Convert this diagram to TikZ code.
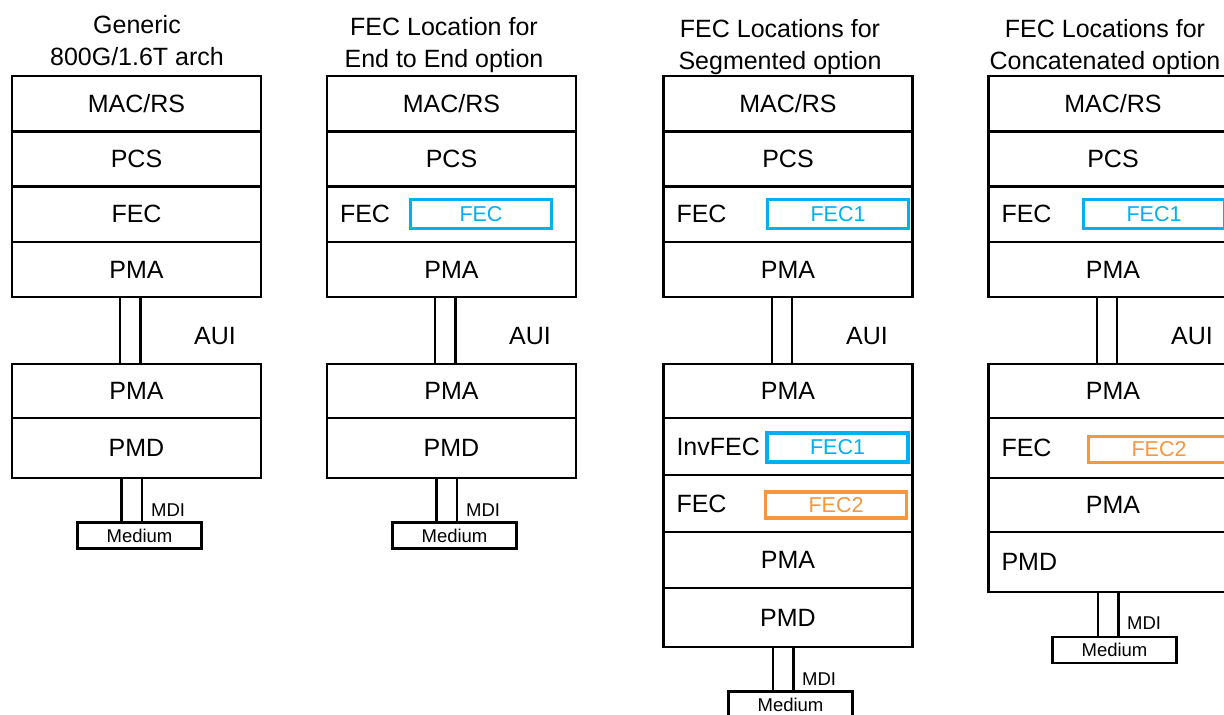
\documentclass[tikz,border=0pt]{standalone}
\usepackage{fontspec}
\setmainfont{Liberation Sans}
\definecolor{fecblue}{HTML}{00B0F0}
\definecolor{fecorange}{HTML}{F7963C}
\tikzset{
  layer/.style={draw, line width=2.2pt, inner sep=0pt, minimum width=249pt,
    font=\fontsize{25}{30}\selectfont},
  llayer/.style={layer, text width=223pt, align=left},
  fecbox/.style={draw=fecblue, line width=3.5pt, minimum width=141pt, minimum height=29pt,
    inner sep=0pt, text=fecblue, font=\fontsize{21.5}{24}\selectfont},
  fecbox2/.style={fecbox, draw=fecorange, text=fecorange, line width=3.2pt, minimum height=26pt},
  title/.style={align=center, inner sep=0pt, anchor=north, font=\fontsize{25}{32}\selectfont},
  conn/.style={line width=2.2pt},
  medium/.style={draw, line width=2.2pt, inner sep=0pt, minimum width=124pt, minimum height=26pt,
    font=\fontsize{18.5}{20}\selectfont},
  smalllabel/.style={inner sep=0pt, anchor=west, font=\fontsize{18.5}{20}\selectfont},
  biglabel/.style={inner sep=0pt, font=\fontsize{25}{30}\selectfont}
}
\begin{document}
\begin{tikzpicture}[x=1pt, y=-1pt]
\useasboundingbox (0,0) rectangle (1224,715);
\clip (0,0) rectangle (1224,715);

% ---------- Column 1 ----------
\node[title] (t1) at (137,15) {Generic\\800G/1.6T arch};
\node[layer, minimum height=55pt] (c1mac) at (136.5,103.6) {MAC/RS};
\node[layer, minimum height=55pt] (c1pcs) at (136.5,158.9) {PCS};
\node[layer, minimum height=55pt] (c1fec) at (136.5,214.1) {FEC};
\node[layer, minimum height=55pt] (c1pma) at (136.5,269.4) {PMA};
\node[layer, minimum height=54pt] (c1lpma) at (136.5,391) {PMA};
\node[layer, minimum height=60pt] (c1pmd) at (136.5,448) {PMD};
\node[medium] (c1med) at (139.5,535.5) {Medium};
\draw[conn] ([xshift=-16.5pt]c1pma.south) -- ([xshift=-16.5pt]c1pma.south |- c1lpma.north);
\draw[conn] ([xshift=4pt]c1pma.south) -- ([xshift=4pt]c1pma.south |- c1lpma.north);
\node[biglabel] (c1aui) at (215,336) {AUI};
\draw[conn] ([xshift=-15pt]c1pmd.south) -- ([xshift=-15pt]c1pmd.south |- c1med.north);
\draw[conn] ([xshift=5.5pt]c1pmd.south) -- ([xshift=5.5pt]c1pmd.south |- c1med.north);
\node[smalllabel] (c1mdi) at (151,510) {MDI};

% ---------- Column 2 ----------
\node[title] (t2) at (444,17) {FEC Location for\\End to End option};
\node[layer, minimum height=55pt] (c2mac) at (451.5,103.6) {MAC/RS};
\node[layer, minimum height=55pt] (c2pcs) at (451.5,158.9) {PCS};
\node[llayer, minimum height=55pt] (c2fec) at (451.5,214.1) {FEC};
\node[fecbox] (c2fec1) at (481,214) {FEC};
\node[layer, minimum height=55pt] (c2pma) at (451.5,269.4) {PMA};
\node[layer, minimum height=54pt] (c2lpma) at (451.5,391) {PMA};
\node[layer, minimum height=60pt] (c2pmd) at (451.5,448) {PMD};
\node[medium] (c2med) at (454.5,535.5) {Medium};
\draw[conn] ([xshift=-16.5pt]c2pma.south) -- ([xshift=-16.5pt]c2pma.south |- c2lpma.north);
\draw[conn] ([xshift=4pt]c2pma.south) -- ([xshift=4pt]c2pma.south |- c2lpma.north);
\node[biglabel] (c2aui) at (530,336) {AUI};
\draw[conn] ([xshift=-15pt]c2pmd.south) -- ([xshift=-15pt]c2pmd.south |- c2med.north);
\draw[conn] ([xshift=5.5pt]c2pmd.south) -- ([xshift=5.5pt]c2pmd.south |- c2med.north);
\node[smalllabel] (c2mdi) at (466,510) {MDI};

% ---------- Column 3 ----------
\node[title] (t3) at (780,19) {FEC Locations for\\Segmented option};
\node[layer, minimum height=55pt] (c3mac) at (788,103.6) {MAC/RS};
\node[layer, minimum height=55pt] (c3pcs) at (788,158.9) {PCS};
\node[llayer, minimum height=55pt] (c3fec) at (788,214.1) {FEC};
\node[fecbox] (c3fec1) at (838,214) {FEC1};
\node[layer, minimum height=55pt] (c3pma) at (788,269.4) {PMA};
\node[layer, minimum height=54pt] (c3lpma) at (788,391) {PMA};
\node[llayer, minimum height=57pt] (c3inv) at (788,446.5) {InvFEC};
\node[fecbox] (c3inv1) at (837.5,447.5) {FEC1};
\node[llayer, minimum height=57pt] (c3fec2row) at (788,503.5) {FEC};
\node[fecbox2] (c3fec2) at (836,505) {FEC2};
\node[layer, minimum height=56pt] (c3pma2) at (788,560) {PMA};
\node[layer, minimum height=59pt] (c3pmd) at (788,617.5) {PMD};
\node[medium] (c3med) at (790.5,704.5) {Medium};
\draw[conn] ([xshift=-16pt]c3pma.south) -- ([xshift=-16pt]c3pma.south |- c3lpma.north);
\draw[conn] ([xshift=4pt]c3pma.south) -- ([xshift=4pt]c3pma.south |- c3lpma.north);
\node[biglabel] (c3aui) at (867,336) {AUI};
\draw[conn] ([xshift=-15pt]c3pmd.south) -- ([xshift=-15pt]c3pmd.south |- c3med.north);
\draw[conn] ([xshift=5.5pt]c3pmd.south) -- ([xshift=5.5pt]c3pmd.south |- c3med.north);
\node[smalllabel] (c3mdi) at (802,679) {MDI};

% ---------- Column 4 ----------
\node[title] (t4) at (1105,19) {FEC Locations for\\Concatenated option};
\node[layer, minimum height=55pt] (c4mac) at (1113,103.6) {MAC/RS};
\node[layer, minimum height=55pt] (c4pcs) at (1113,158.9) {PCS};
\node[llayer, minimum height=55pt] (c4fec) at (1113,214.1) {FEC};
\node[fecbox] (c4fec1) at (1154,214) {FEC1};
\node[layer, minimum height=55pt] (c4pma) at (1113,269.4) {PMA};
\node[layer, minimum height=54pt] (c4lpma) at (1113,391) {PMA};
\node[llayer, minimum height=60pt] (c4fec2row) at (1113,448) {FEC};
\node[fecbox2] (c4fec2) at (1159,449.5) {FEC2};
\node[layer, minimum height=54pt] (c4pma2) at (1113,505) {PMA};
\node[llayer, minimum height=60pt] (c4pmd) at (1113,562) {PMD};
\node[medium] (c4med) at (1114.5,650) {Medium};
\draw[conn] ([xshift=-16pt]c4pma.south) -- ([xshift=-16pt]c4pma.south |- c4lpma.north);
\draw[conn] ([xshift=4pt]c4pma.south) -- ([xshift=4pt]c4pma.south |- c4lpma.north);
\node[biglabel] (c4aui) at (1192,336) {AUI};
\draw[conn] ([xshift=-15pt]c4pmd.south) -- ([xshift=-15pt]c4pmd.south |- c4med.north);
\draw[conn] ([xshift=5.5pt]c4pmd.south) -- ([xshift=5.5pt]c4pmd.south |- c4med.north);
\node[smalllabel] (c4mdi) at (1127,623) {MDI};
\end{tikzpicture}
\end{document}
